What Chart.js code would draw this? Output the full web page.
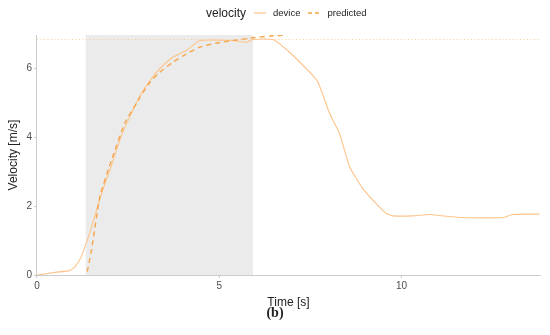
<!DOCTYPE html>
<html>
<head>
<meta charset="utf-8">
<script src="https://cdn.jsdelivr.net/npm/chart.js@4"></script>
<style>
  body { margin: 0; background: #fff; }
  #wrap { position: relative; width: 550px; height: 335px; font-family: "Liberation Sans", Arial, sans-serif; }
  #chartCanvas { display: block; }
  #legend { position: absolute; top: 3px; left: 206px; white-space: nowrap; color: #222; }
  #legend span, #legend svg { vertical-align: middle; }
  .ttl { font-size: 12px; margin-right: 7px; }
  .lbl { font-size: 9.5px; margin: 0 7px 0 6px; }
  #caption { position: absolute; top: 305px; left: 0; width: 550px; text-align: center;
             font-family: "Liberation Serif", "DejaVu Serif", serif; font-size: 14px; font-weight: bold; color: #222; }
</style>
</head>
<body>
<div id="wrap">
  <canvas id="chartCanvas" width="550" height="335"></canvas>
  <div id="legend">
    <span class="ttl">velocity</span><svg width="14" height="10"><line x1="1" y1="5" x2="13" y2="5" stroke="#fdc48a" stroke-width="1.2"/></svg><span class="lbl">device</span><svg width="14" height="10"><line x1="1" y1="5" x2="13" y2="5" stroke="#f5a54a" stroke-width="1.4" stroke-dasharray="4,3"/></svg><span class="lbl">predicted</span>
  </div>
  <div id="caption">(b)</div>
</div>
<script>
const deviceTime = [0, 0.5, 0.9, 1.04, 1.2, 1.36, 1.5, 1.75, 2.05, 2.3, 2.55, 2.85, 3.1, 3.37, 3.73, 4.1, 4.47, 5.38, 5.75, 5.93, 6.47, 6.93, 7.48, 7.71, 8.03, 8.3, 8.58, 8.94, 9.3, 9.58, 9.76, 10.31, 10.77, 11.22, 11.68, 12.78, 13.05, 13.78];
const deviceVel = [0, 0.08, 0.13, 0.24, 0.5, 0.95, 1.4, 2.3, 3.2, 4.0, 4.6, 5.25, 5.65, 5.99, 6.33, 6.52, 6.81, 6.81, 6.76, 6.84, 6.84, 6.47, 5.89, 5.6, 4.69, 4.11, 3.14, 2.51, 2.08, 1.79, 1.72, 1.72, 1.76, 1.71, 1.67, 1.67, 1.76, 1.77];

const predictedTime = [1.38, 1.5, 1.73, 2.05, 2.41, 2.82, 3.1, 3.37, 3.73, 4.1, 4.47, 4.9, 5.38, 5.93, 6.4, 6.84];
const predictedVel = [0.1, 0.75, 2.3, 3.35, 4.41, 5.15, 5.6, 5.89, 6.18, 6.42, 6.62, 6.73, 6.81, 6.89, 6.94, 6.97];

const plateauVel = 6.84;
const shadeStart = 1.33;
const shadeEnd = 5.93;
const xMax = 13.8;
const yMax = 6.97;

const xTicks = [0, 5, 10];
const yTicks = [0, 2, 4, 6];

const toPoints = (xs, ys) => xs.map((x, i) => ({ x: x, y: ys[i] }));

const ctx = document.getElementById('chartCanvas').getContext('2d');

new Chart(ctx, {
    type: 'line',
    data: {
        datasets: [
            {
                label: 'shade',
                data: [{ x: shadeStart, y: yMax }, { x: shadeEnd, y: yMax }],
                borderWidth: 0,
                pointRadius: 0,
                backgroundColor: '#ebebeb',
                fill: 'origin',
                order: 5
            },
            {
                label: 'plateau',
                data: [{ x: 0, y: plateauVel }, { x: xMax, y: plateauVel }],
                borderColor: '#fcc98f',
                borderWidth: 1,
                borderDash: [1, 2.5],
                pointRadius: 0,
                fill: false,
                order: 4
            },
            {
                label: 'device',
                data: toPoints(deviceTime, deviceVel),
                borderColor: '#fdc48a',
                borderWidth: 1.1,
                pointRadius: 0,
                tension: 0.15,
                fill: false,
                order: 2
            },
            {
                label: 'predicted',
                data: toPoints(predictedTime, predictedVel),
                borderColor: '#f5a54a',
                borderWidth: 1.4,
                borderDash: [5, 4],
                pointRadius: 0,
                tension: 0.15,
                fill: false,
                order: 1
            }
        ]
    },
    options: {
        responsive: false,
        animation: false,
        layout: { padding: { top: 35, right: 10, bottom: 25, left: 6 } },
        plugins: {
            legend: { display: false },
            tooltip: { enabled: false }
        },
        scales: {
            x: {
                type: 'linear',
                min: 0,
                max: xMax,
                afterBuildTicks: (axis) => { axis.ticks = xTicks.map(v => ({ value: v })); },
                ticks: { color: '#4d4d4d', font: { family: 'Liberation Sans', size: 10 }, padding: 2.5, maxRotation: 0 },
                grid: { drawOnChartArea: false, color: '#cccccc', tickLength: 3 },
                border: { color: '#cccccc', width: 1 },
                title: { display: true, text: 'Time [s]', color: '#222', font: { family: 'Liberation Sans', size: 12 }, padding: { top: 0.5, bottom: 0 } }
            },
            y: {
                min: 0,
                max: yMax,
                afterBuildTicks: (axis) => { axis.ticks = yTicks.map(v => ({ value: v })); },
                ticks: { color: '#4d4d4d', font: { family: 'Liberation Sans', size: 10 }, padding: 2 },
                grid: { drawOnChartArea: false, color: '#cccccc', tickLength: 3 },
                border: { color: '#cccccc', width: 1 },
                title: { display: true, text: 'Velocity [m/s]', color: '#222', font: { family: 'Liberation Sans', size: 12 }, padding: { top: 0, bottom: 4 } }
            }
        }
    }
});
</script>
</body>
</html>
